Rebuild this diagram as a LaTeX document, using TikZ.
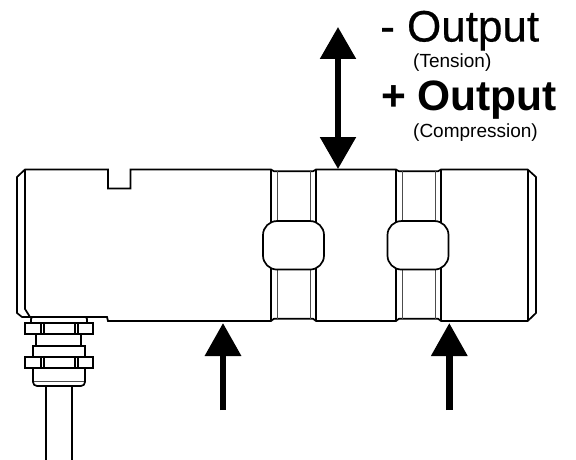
\documentclass[tikz,border=0pt]{standalone}
\usepackage{fontspec}
\setmainfont{Liberation Sans}
\newfontfamily\heavyfont[FakeBold=0.5]{Liberation Sans}
\usepackage{xcolor}
\usepackage{tikz}
\usetikzlibrary{positioning, arrows.meta}

\begin{document}
\begin{tikzpicture}[x=1pt, y=-1pt, line join=miter,
		outline/.style={line width=1.7pt},
		thin groove/.style={line width=1pt, black!70},
		window/.style={draw, outline, fill=white, rounded corners=14pt, inner sep=0pt, minimum width=61pt, minimum height=48.5pt},
		force/.style={-{Triangle[length=33pt, width=35pt]}, line width=6.5pt},
		both force/.style={{Triangle[length=32pt, width=35pt]}-{Triangle[length=32pt, width=35pt]}, line width=5.5pt},
		big label/.style={inner sep=0pt, anchor=base west},
		small label/.style={inner sep=0pt, font=\fontsize{19}{19}\selectfont}]
		\useasboundingbox (0,0) rectangle (576,460);
		
		% cable and gland
		\draw[outline] (46,386) -- (46,460) (72,386) -- (72,460);
		\draw[outline, rounded corners=4pt] (33,368) -- (33,386) -- (85,386) -- (85,368);
		\draw[thin groove] (34,381) -- (84,381);
		\draw[outline] (33,346) rectangle (85,357);
		\draw[outline] (36,334) -- (36,346) (81,334) -- (81,346);
		\draw[outline, rounded corners=2pt] (31,323) -- (31,317) -- (87,317) -- (87,323);
		\foreach \nuty in {323,357}{
			\draw[outline] (25,\nuty) rectangle (93,\nuty+11);
			\foreach \nutx in {41,44,75,78}
				\draw[outline] (\nutx,\nuty) -- (\nutx,\nuty+11);
		}
		
		% body
		\draw[outline] (25,169.5) -- (108,169.5) -- (108,188.5) -- (130.5,188.5) -- (130.5,169.5)
		-- (271,169.5) -- (274,171.3) -- (313,171.3) -- (316,169.5)
		-- (396,169.5) -- (399,171.3) -- (438,171.3) -- (441,169.5)
		-- (527.7,169.5) -- (536,177) -- (536,313) -- (527.7,321)
		-- (441,321) -- (438,318.7) -- (399,318.7) -- (396,321)
		-- (316,321) -- (313,318.7) -- (274,318.7) -- (271,321)
		-- (108,321) -- (107,317) -- (22,317) -- (17,313) -- (17,177) -- cycle;
		\draw[outline] (25,169.5) -- (25,309) -- (30,317);
		\draw[outline] (527.7,169.5) -- (527.7,321);
		\foreach \groovex in {271,396}{
			\draw[outline] (\groovex,169.5) -- (\groovex,321);
			\draw[outline] (\groovex+45,169.5) -- (\groovex+45,321);
			\draw[thin groove] (\groovex+6,171.3) -- (\groovex+6,318.7);
			\draw[thin groove] (\groovex+39,171.3) -- (\groovex+39,318.7);
		}
		\node[window] (window a) at (293.5,245.3) {};
		\node[window] (window b) at (418,245.3) {};
		
		% forces
		\coordinate (top tip) at (338,27);
		\coordinate (body top) at (338,169);
		\coordinate (left tail) at (223,410);
		\coordinate (left tip) at (223,323);
		\coordinate (right tail) at (449.3,410);
		\coordinate (right tip) at (449.3,323);
		\draw[both force] (top tip) -- (body top);
		\draw[force] (left tail) -- (left tip);
		\draw[force] (right tail) -- (right tip);
		
		% labels
		\node[big label, font=\heavyfont\fontsize{44}{44}\selectfont] (minus) at (380,41.5) {- Output};
		\node[small label, anchor=base west] (tension) at (413,68) {(Tension)};
		\node[big label, font=\fontsize{42.5}{42.5}\selectfont\bfseries] (plus) at (381,110.5) {+ Output};
		\node[small label, anchor=base west] (compression) at (413,137) {(Compression)};
	\end{tikzpicture}
\end{document}
